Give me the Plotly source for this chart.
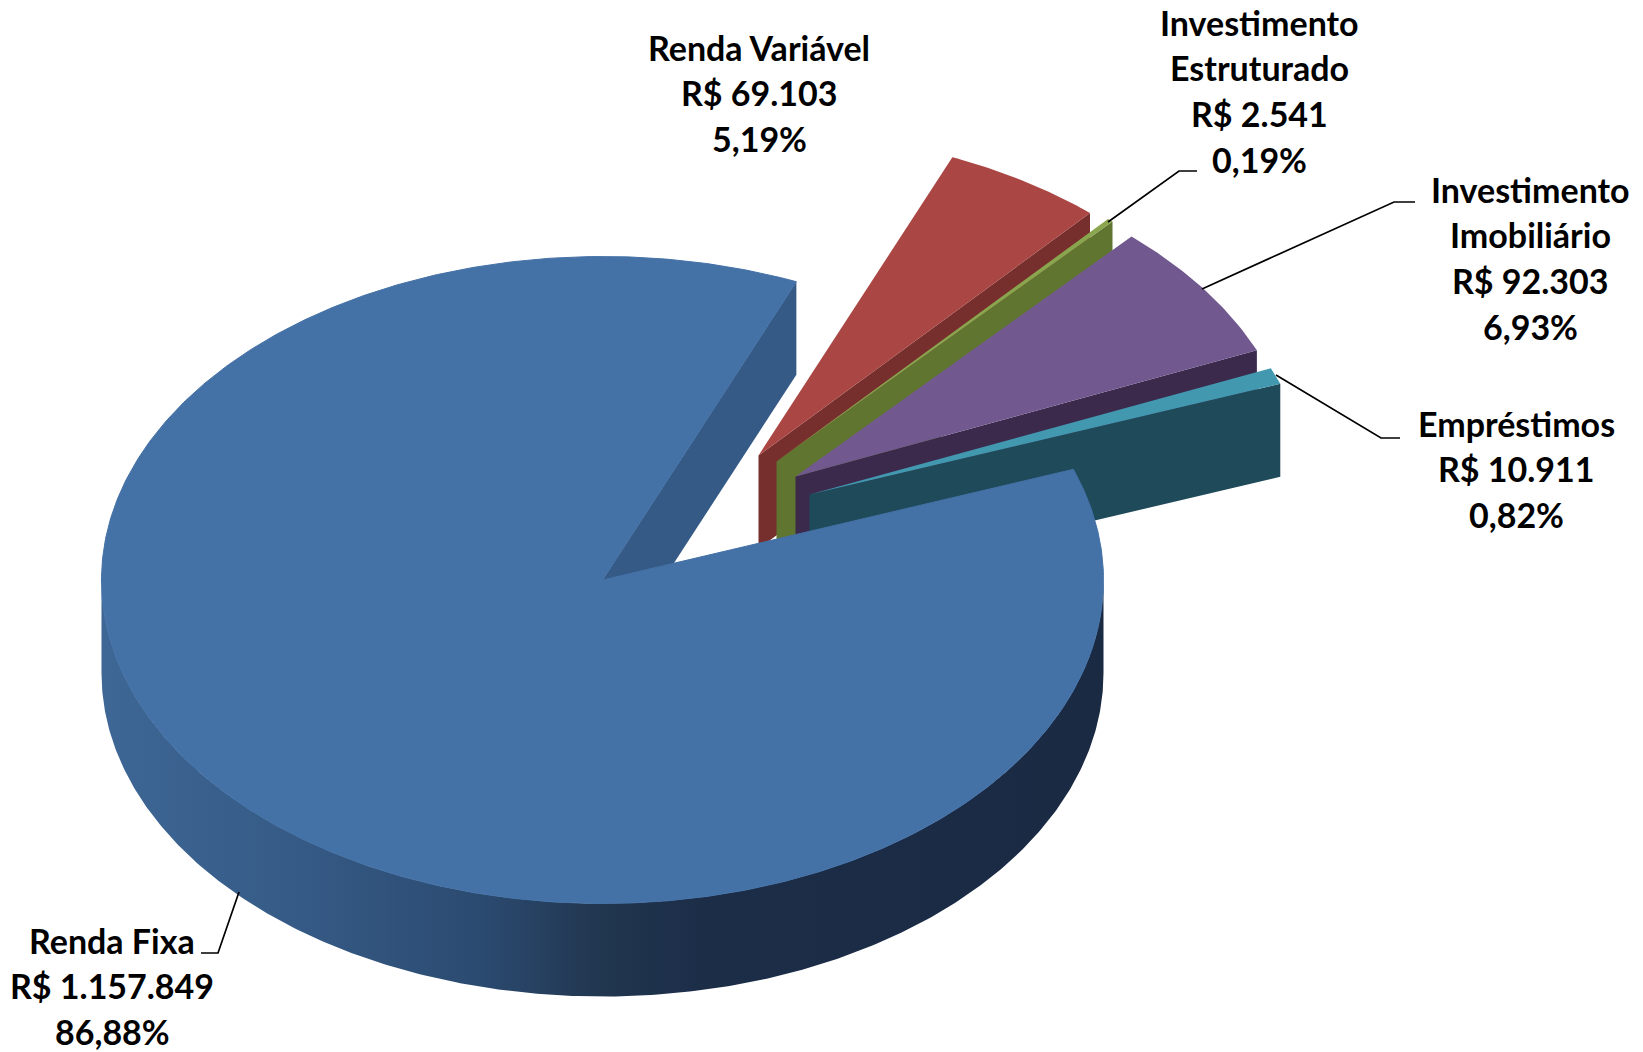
import numpy as np
import plotly.graph_objects as go

# --- data ---
names = ["Renda Fixa", "Renda Variável", "Investimento<br>Estruturado", "Investimento<br>Imobiliário", "Empréstimos"]
values = [1157849, 69103, 2541, 92303, 10911]

# --- styling / layout ---
top_colors = ["#4471A6", "#AA4643", "#89A54E", "#71588F", "#4198AF"]
wall_colors = ["#355A85", "#772F2D", "#5F7530", "#3C2A4D", "#1F4A5A"]
W, H = 1643, 1052
CX, CY, RX, RY, DEPTH = 602.5, 580.0, 501.0, 323.5, 93.0
START_ANGLE = 70.0
explode = [(0, 0), (156, -124.5), (174, -118.5), (193, -103.5), (207, -85.5)]
label_pos = [(112, 940), (759, 47), (1259.5, 22), (1530, 189), (1516, 423)]
LINE_STEP = 45.8
FONT_SIZE = 34
leaders = [
    ([201, 218, 239], [953, 953, 892]),
    ([1197, 1179, 1108], [171, 171, 222]),
    ([1415, 1394, 1202], [202, 202, 289]),
    ([1400, 1381, 1276], [438, 438, 375]),
]
wall_scale = [[0, "#3E6796"], [0.2, "#355A85"], [0.38, "#2B4A70"], [0.5, "#21364F"],
              [0.6, "#1C2D48"], [1, "#1A2A43"]]


def pt(theta, ox=0.0, oy=0.0, dz=0.0):
    t = np.radians(theta)
    return CX + ox + RX * np.sin(t), CY + oy - RY * np.cos(t) + dz


def arc(a0, a1, ox=0.0, oy=0.0, dz=0.0):
    th = np.linspace(a0, a1, max(int(abs(a1 - a0) * 2), 2) + 1)
    return pt(th, ox, oy, dz)


def poly(fig, x, y, color=None, gradient=None, edge=0):
    kw = dict(fillgradient=gradient) if gradient else dict(fillcolor=color)
    fig.add_trace(go.Scatter(x=list(x), y=list(y), mode="lines", fill="toself",
                             line=dict(width=edge, color=color), hoverinfo="skip", **kw))


total = sum(values)
starts, ends = [], []
a = START_ANGLE
for v in values:
    starts.append(a)
    a += v / total * 360
    ends.append(a)

fig = go.Figure()

# exploded slices, back to front
for i in range(1, len(values)):
    ox, oy = explode[i]
    ax, ay = CX + ox, CY + oy
    ex, ey = pt(ends[i], ox, oy)
    poly(fig, [ax, ex, ex, ax], [ay, ey, ey + DEPTH, ay + DEPTH], wall_colors[i])
    x, y = arc(starts[i], ends[i], ox, oy)
    poly(fig, [ax, *x], [ay, *y], top_colors[i])

# main slice: end wall, outer wall, top
ex, ey = pt(ends[0])
poly(fig, [CX, ex, ex, CX], [CY, ey, ey + DEPTH, CY + DEPTH], wall_colors[0])
x0, y0 = arc(90, 270)
x1, y1 = arc(270, 90, dz=DEPTH)
poly(fig, [*x0, *x1], [*y0, *y1],
     gradient=dict(type="horizontal", colorscale=wall_scale))
x, y = arc(starts[0], ends[0])
poly(fig, [CX, *x, CX], [CY, *y, CY], top_colors[0], edge=1)

# leader lines
for lx, ly in leaders:
    fig.add_trace(go.Scatter(x=lx, y=ly, mode="lines", hoverinfo="skip",
                             line=dict(color="black", width=1.7)))

# labels
for i, n in enumerate(names):
    lines = n.split("<br>") + [f"R$ {values[i]:,}".replace(",", "."),
                               f"{values[i] / total * 100:.2f}%".replace(".", ",")]
    lx, ly = label_pos[i]
    for j, t in enumerate(lines):
        fig.add_annotation(x=lx, y=ly + j * LINE_STEP, text=f"<b>{t}</b>", showarrow=False,
                           xanchor="center", yanchor="middle", borderpad=0,
                           font=dict(family="Lato", size=FONT_SIZE, color="black"))

fig.update_layout(width=W, height=H, margin=dict(l=0, r=0, t=0, b=0), showlegend=False,
                  paper_bgcolor="white", plot_bgcolor="white",
                  xaxis=dict(range=[0, W], visible=False, fixedrange=True),
                  yaxis=dict(range=[H, 0], visible=False, fixedrange=True))
fig.write_html("out.html", post_script="document.body.style.margin='0';document.documentElement.style.overflow='hidden';",
               config={"displayModeBar": False})
